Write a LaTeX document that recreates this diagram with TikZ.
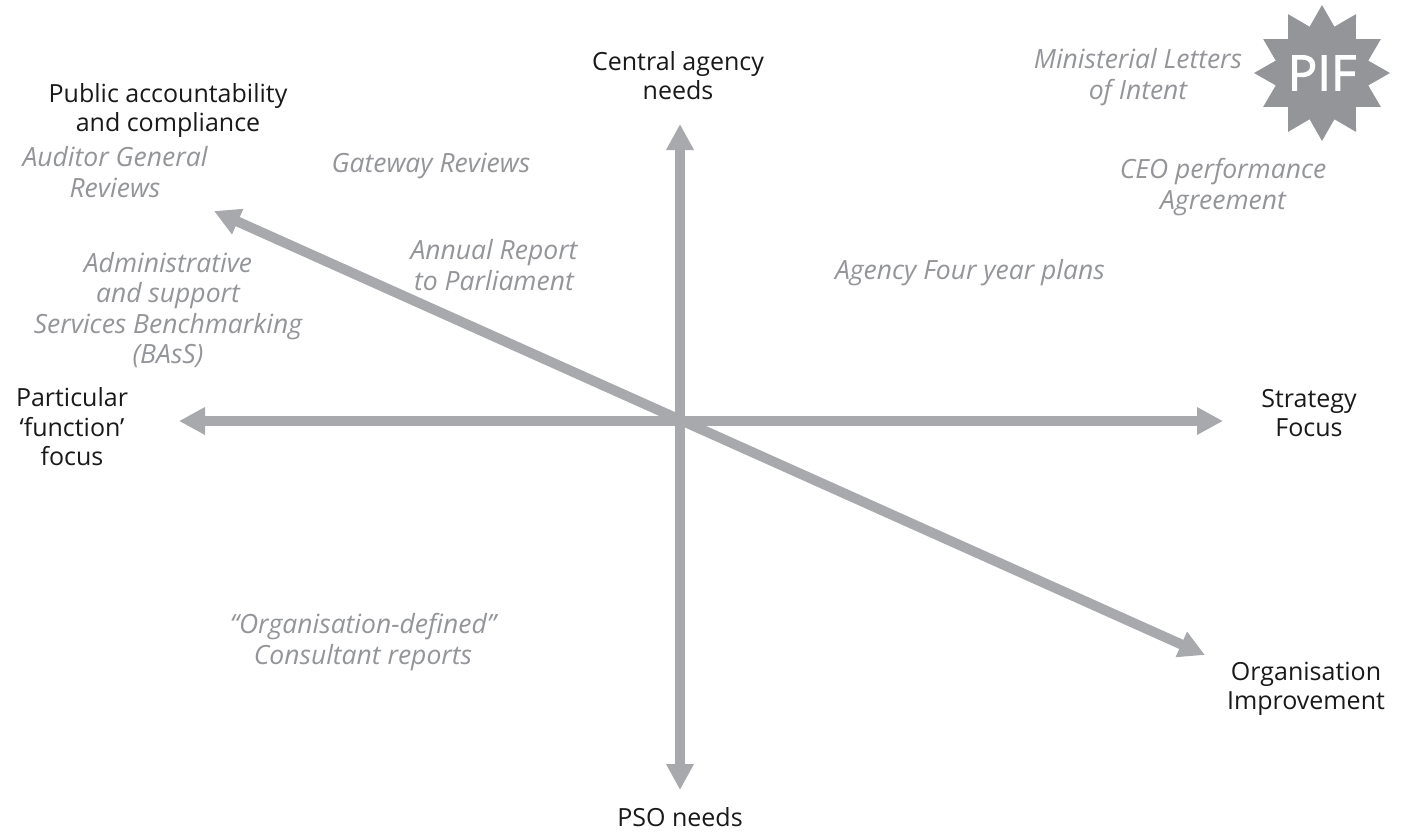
\documentclass[tikz,border=0pt]{standalone}
\usepackage{fontspec}
\setmainfont{Open Sans}
\usetikzlibrary{arrows.meta,shapes.geometric}
\definecolor{ax}{HTML}{A7A9AC}
\definecolor{gt}{HTML}{939598}
\definecolor{st}{HTML}{939598}
\tikzset{
 lab/.style={align=center,font=\fontsize{25}{29.5}\selectfont,text=black!90,inner sep=0},
 doc/.style={align=center,font=\fontsize{26.5}{30.5}\selectfont\itshape,text=gt,inner sep=0},
 axis/.style={line width=10pt,draw=ax,{Triangle[length=26pt,width=26pt]}-{Triangle[length=26pt,width=26pt]}}
}
\begin{document}
\begin{tikzpicture}[x=1pt,y=-1pt]
\useasboundingbox (0,0) rectangle (1402,831);
\coordinate (t) at (680,124);
\coordinate (b) at (680,790);
\coordinate (l) at (179,421);
\coordinate (r) at (1223,421);
\coordinate (ul) at (214,211);
\coordinate (lr) at (1205,655);
\draw[axis] (t) -- (b);
\draw[axis] (l) -- (r);
\draw[axis] (ul) -- (lr);
\node[lab] (n1) at (678,75.5) {Central agency\\needs};
\node[lab] (n2) at (168,110.5) {Public accountability\\and compliance};
\node[lab] (n3) at (72,427) {Particular\\‘function’\\focus};
\node[lab] (n4) at (1309,413) {Strategy\\Focus};
\node[lab] (n5) at (1306,689) {Organisation\\Improvement};
\node[lab] (n7) at (680,817) {PSO needs};
\node[doc] (d1) at (1138,77) {Ministerial Letters\\of Intent};
\node[doc] (d2) at (1223,187) {CEO performance\\Agreement};
\node[doc] (d3) at (970,273) {Agency Four year plans};
\node[doc] (d4) at (431,166) {Gateway Reviews};
\node[doc] (d5) at (494,265) {Annual Report\\to Parliament};
\node[doc] (d6) at (115,172) {Auditor General\\Reviews};
\node[doc] (d7) at (168,310) {Administrative\\and support\\Services Benchmarking\\(BAsS)};
\node[doc] (d8) at (363,642) {“Organisation-defined”\\Consultant reports};
\node[star,star points=12,star point ratio=1.42,fill=st,minimum size=136pt,inner sep=0] (s) at (1322,73) {};
\node[font=\fontsize{49}{49}\selectfont\addfontfeature{FakeBold=2},text=white,inner sep=0] (p) at (1322,73) {PIF};
\end{tikzpicture}
\end{document}
